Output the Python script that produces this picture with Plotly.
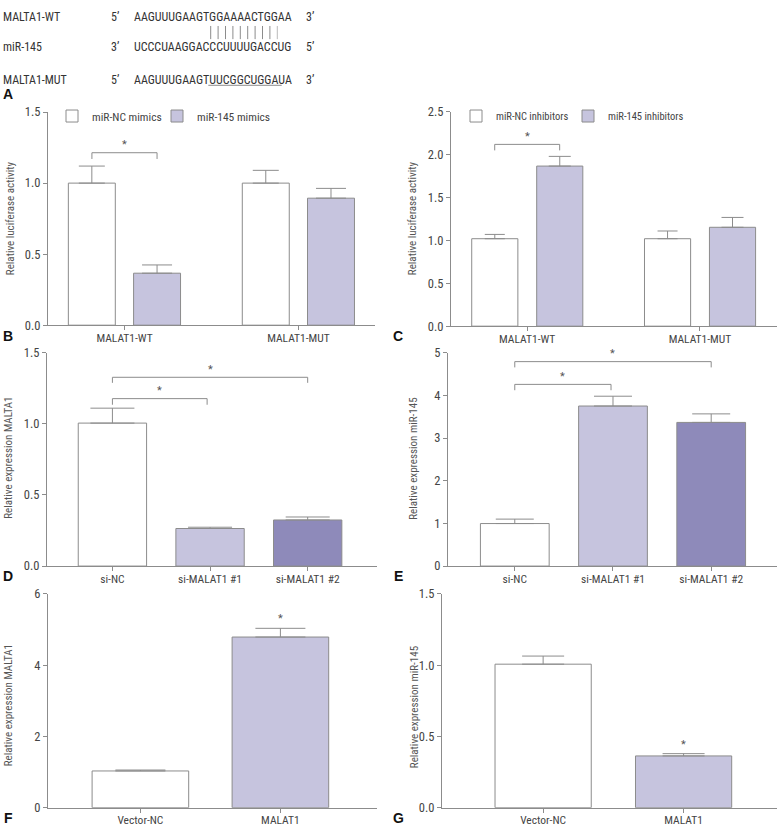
import plotly.graph_objects as go

W, H = 780, 833
FONT = "Roboto Condensed, Liberation Sans Narrow, Roboto, Liberation Sans, sans-serif"
GRAY = "#8c8c8c"
TXT = "#444444"
WHITE = "#ffffff"
LIGHT = "#c6c4de"
DARK = "#8e8aba"

# ---------------- data ----------------
# Panel A (sequences)
a_labels = ["MALTA1-WT", "miR-145", "MALTA1-MUT"]
a_left_ends = ["5\u2019", "3\u2019", "5\u2019"]
a_right_ends = ["3\u2019", "5\u2019", "3\u2019"]
a_seqs = ["AAGUUUGAAGTGGAAAACTGGAA", "UCCCUAAGGACCCUUUUGACCUG", "AAGUUUGAAGTUUCGGCUGGAUA"]
a_pair_count = 10

# Panel B
b_groups = ["MALAT1-WT", "MALAT1-MUT"]
b_names = ["miR-NC mimics", "miR-145 mimics"]
b_nc = [1.00, 1.00]
b_nc_err = [0.12, 0.09]
b_mim = [0.366, 0.894]
b_mim_err = [0.058, 0.069]

# Panel C
c_groups = ["MALAT1-WT", "MALAT1-MUT"]
c_names = ["miR-NC inhibitors", "miR-145 inhibitors"]
c_nc = [1.02, 1.02]
c_nc_err = [0.05, 0.09]
c_inh = [1.867, 1.153]
c_inh_err = [0.113, 0.115]

# Panel D
d_groups = ["si-NC", "si-MALAT1 #1", "si-MALAT1 #2"]
d_vals = [1.005, 0.264, 0.324]
d_err = [0.105, 0.009, 0.021]

# Panel E
e_groups = ["si-NC", "si-MALAT1 #1", "si-MALAT1 #2"]
e_vals = [0.996, 3.75, 3.366]
e_err = [0.104, 0.23, 0.20]

# Panel F
f_groups = ["Vector-NC", "MALAT1"]
f_vals = [1.03, 4.79]
f_err = [0.026, 0.245]

# Panel G
g_groups = ["Vector-NC", "MALAT1"]
g_vals = [1.007, 0.363]
g_err = [0.057, 0.016]


def px(xp):
    return xp / W


def py(yp):
    return 1 - yp / H


fig = go.Figure()

panels = {
    "": ((48, 375), (106, 323), (-0.44, 1.44), (0, 1.5), [0, 0.5, 1.0, 1.5], ".1f",
         "Relative luciferase activity", (10, 214)),
    "2": ((451, 777), (105.7, 324), (-0.441, 1.446), (0, 2.5), [0, 0.5, 1, 1.5, 2, 2.5], ".1f",
          "Relative luciferase activity", (412, 214)),
    "3": ((47, 377), (351, 568.3), (-0.67, 2.71), (0, 1.5), [0, 0.5, 1.0, 1.5], ".1f",
          "Relative expression MALTA1", (9, 458)),
    "4": ((448, 777), (351, 568.3), (-0.68, 2.67), (0, 5), [0, 1, 2, 3, 4, 5], "d",
          "Relative expression miR-145", (414, 459)),
    "5": ((48, 377), (596.7, 814.3), (-0.66, 1.69), (0, 6), [0, 2, 4, 6], "d",
          "Relative expression MALTA1", (8, 710)),
    "6": ((442, 777), (596.7, 814.3), (-0.72, 1.665), (0, 1.5), [0, 0.5, 1.0, 1.5], ".1f",
          "Relative expression miR-145", (414, 712)),
}

annotations = []
shapes = []

for k, (xd, yd, xr, yr, tv, fmt, ytitle, tpos) in panels.items():
    fig.layout["xaxis" + k] = dict(
        domain=[px(xd[0]), px(xd[1])], range=list(xr), anchor="y" + k, type="category",
        showline=True, linecolor=GRAY, linewidth=1, ticks="outside", ticklen=4,
        tickcolor=GRAY, showgrid=False, zeroline=False, ticklabelstandoff=-2,
        tickfont=dict(family=FONT, size=11.5, color=TXT), fixedrange=True,
    )
    fig.layout["yaxis" + k] = dict(
        domain=[py(yd[1]), py(yd[0])], range=list(yr), anchor="x" + k,
        showline=True, linecolor=GRAY, linewidth=1, ticks="outside", ticklen=4,
        tickcolor=GRAY, showgrid=False, zeroline=False, tickvals=tv, tickformat=fmt,
        tickfont=dict(family=FONT, size=12.5, color=TXT), fixedrange=True,
    )
    annotations.append(dict(
        text=ytitle, x=px(tpos[0]), y=py(tpos[1]), xref="paper", yref="paper",
        textangle=-90, showarrow=False, xanchor="center", yanchor="middle",
        font=dict(family=FONT, size=11, color="#555555"),
    ))


def bar(x, y, err, color, xa, ya, width, offset=None, capw=12, name=None,
        legend=None, showlegend=False):
    t = go.Bar(
        x=x, y=y, name=name, xaxis=xa, yaxis=ya, width=width,
        marker=dict(color=color, line=dict(color=GRAY, width=1)),
        error_y=dict(type="data", array=err, arrayminus=[0] * len(err), symmetric=False,
                     color=GRAY, thickness=1, width=capw),
        showlegend=showlegend, hoverinfo="x+y",
    )
    if offset is not None:
        t.offset = offset
    if legend:
        t.legend = legend
    return t


# Panel B
fig.add_trace(bar(b_groups, b_nc, b_nc_err, WHITE, "x", "y", 0.27, -0.323, 13,
                  b_names[0], "legend", True))
fig.add_trace(bar(b_groups, b_mim, b_mim_err, LIGHT, "x", "y", 0.27, 0.052, 15,
                  b_names[1], "legend2", True))
# Panel C
fig.add_trace(bar(c_groups, c_nc, c_nc_err, WHITE, "x2", "y2", 0.267, -0.321, 10,
                  c_names[0], "legend3", True))
fig.add_trace(bar(c_groups, c_inh, c_inh_err, LIGHT, "x2", "y2", 0.267, 0.055, 11,
                  c_names[1], "legend4", True))
# Panel D
fig.add_trace(bar(d_groups, d_vals, d_err, [WHITE, LIGHT, DARK], "x3", "y3", 0.70, None, 22))
# Panel E
fig.add_trace(bar(e_groups, e_vals, e_err, [WHITE, LIGHT, DARK], "x4", "y4", 0.70, None, 19))
# Panel F
fig.add_trace(bar(f_groups, f_vals, f_err, [WHITE, LIGHT], "x5", "y5", 0.69, None, 25))
# Panel G
fig.add_trace(bar(g_groups, g_vals, g_err, [WHITE, LIGHT], "x6", "y6", 0.685, None, 21))

# significance brackets: (axis suffix, x0, x1, y_top, y_end, y_star)
brackets = [
    ("", -0.1875, 0.187, 1.214, 1.17, 1.27),
    ("2", -0.188, 0.188, 2.12, 2.05, 2.21),
    ("3", 0, 2, 1.327, 1.288, 1.385),
    ("3", 0, 0.97, 1.177, 1.134, 1.235),
    ("4", 0, 2, 4.79, 4.655, 4.97),
    ("4", 0, 0.98, 4.257, 4.12, 4.44),
]
for k, x0, x1, yt, ye, ys in brackets:
    shapes.append(dict(type="path", xref="x" + k, yref="y" + k,
                       path=f"M {x0},{ye} L {x0},{yt} L {x1},{yt} L {x1},{ye}",
                       line=dict(color=GRAY, width=1)))
    annotations.append(dict(text="*", x=(x0 + x1) / 2, y=ys, xref="x" + k, yref="y" + k,
                            showarrow=False, font=dict(family=FONT, size=11, color="#555555"),
                            yanchor="middle"))
for k, xs, ys in [("5", 1, 5.31), ("6", 1, 0.446)]:
    annotations.append(dict(text="*", x=xs, y=ys, xref="x" + k, yref="y" + k,
                            showarrow=False, font=dict(family=FONT, size=11, color="#555555"),
                            yanchor="middle"))

# Panel A text
row_y = [9, 39.5, 73]
seq_x0 = 133.3
for i in range(3):
    for txt, xx in [(a_labels[i], 2), (a_left_ends[i], 110), (a_seqs[i], seq_x0),
                    (a_right_ends[i], 305)]:
        annotations.append(dict(text=txt, x=px(xx), y=py(row_y[i]), xref="paper",
                                yref="paper", showarrow=False, xanchor="left",
                                yanchor="middle", borderpad=0,
                                font=dict(family=FONT, size=12, color="#333333")))
pair_x0, pair_dx = 210.7, 7.4
for j in range(a_pair_count):
    xx = pair_x0 + j * pair_dx
    shapes.append(dict(type="line", xref="paper", yref="paper", x0=px(xx), x1=px(xx),
                       y0=py(18.3), y1=py(31.7),
                       line=dict(color="#bbbbbb" if j == a_pair_count - 1 else GRAY, width=1)))
shapes.append(dict(type="line", xref="paper", yref="paper",
                   x0=px(208.3), x1=px(281.7),
                   y0=py(78.7), y1=py(78.7), line=dict(color=GRAY, width=1)))

# Panel letters
for letter, xx, yy in [("A", 8, 88), ("B", 8, 334), ("C", 398, 334), ("D", 8, 578),
                       ("E", 398, 578), ("F", 8, 825), ("G", 398, 825)]:
    annotations.append(dict(text=f"<b>{letter}</b>", x=px(xx), y=py(yy), xref="paper",
                            yref="paper", showarrow=False, xanchor="center", yanchor="middle",
                            font=dict(family="Liberation Sans, Arial, sans-serif", size=14,
                                      color="#111111")))

legend_common = dict(orientation="h", xanchor="left", yanchor="middle", bgcolor="rgba(0,0,0,0)",
                     itemwidth=30, itemclick=False, itemdoubleclick=False)
lfont_b = dict(family=FONT, size=11.5, color=TXT)
lfont_c = dict(family=FONT, size=10.5, color=TXT)

fig.update_layout(
    width=W, height=H, margin=dict(l=0, r=0, t=0, b=0),
    paper_bgcolor="white", plot_bgcolor="white",
    barmode="overlay",
    showlegend=True,
    legend=dict(x=px(52), y=py(110), font=lfont_b, **legend_common),
    legend2=dict(x=px(157), y=py(110), font=lfont_b, **legend_common),
    legend3=dict(x=px(456), y=py(110), font=lfont_c, **legend_common),
    legend4=dict(x=px(568), y=py(110), font=lfont_c, **legend_common),
    annotations=annotations, shapes=shapes,
    font=dict(family=FONT, color=TXT),
)

fig.write_html("out.html", config={"displayModeBar": False},
               post_script="document.body.style.margin='0';document.body.style.overflow='hidden';")
